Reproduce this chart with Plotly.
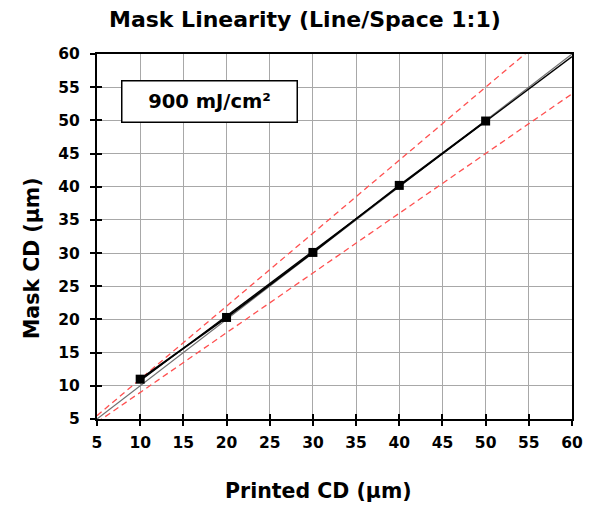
import numpy as np
import plotly.graph_objects as go

# Data
printed_cd = [10, 20, 30, 40, 50]
mask_cd = [11.0, 20.3, 30.1, 40.2, 49.9]
ref_x = [5, 60]
ideal_ratio = 1.0
tol_hi = 1.1
tol_lo = 0.9
trend_x = [10, 60]
ticks = [5, 10, 15, 20, 25, 30, 35, 40, 45, 50, 55, 60]
label_text = "900 mJ/cm²"
title_text = "Mask Linearity (Line/Space 1:1)"
x_title = "Printed CD (µm)"
y_title = "Mask CD (µm)"

slope, icpt = np.polyfit(printed_cd, mask_cd, 1)
trend_y = [slope * v + icpt for v in trend_x]

FONT = "DejaVu Sans"
fig = go.Figure()

fig.add_trace(go.Scatter(x=ref_x, y=[tol_hi * v for v in ref_x], mode="lines",
                         line=dict(color="#ff5050", width=1.3, dash="6px,4px"), showlegend=False))
fig.add_trace(go.Scatter(x=ref_x, y=[tol_lo * v for v in ref_x], mode="lines",
                         line=dict(color="#ff5050", width=1.3, dash="6px,4px"), showlegend=False))
fig.add_trace(go.Scatter(x=ref_x, y=[ideal_ratio * v for v in ref_x], mode="lines",
                         line=dict(color="#707070", width=1.2), showlegend=False))
fig.add_trace(go.Scatter(x=trend_x, y=trend_y, mode="lines",
                         line=dict(color="black", width=1.3), showlegend=False))
fig.add_trace(go.Scatter(x=printed_cd, y=mask_cd, mode="lines+markers",
                         line=dict(color="black", width=1.8),
                         marker=dict(symbol="square", size=9, color="black"),
                         showlegend=False))

axis_common = dict(
    range=[5, 60], tickvals=ticks, showgrid=True, gridcolor="#a8a8a8", gridwidth=1,
    showline=True, linecolor="black", linewidth=2, mirror=True,
    ticks="outside", ticklen=5, tickwidth=1.5, tickcolor="black",
    tickfont=dict(family=FONT, size=15.5, color="black", weight="bold"),
    zeroline=False,
)

fig.update_layout(
    width=600, height=506,
    margin=dict(l=89, r=36, t=46, b=95),
    paper_bgcolor="white", plot_bgcolor="white",
    xaxis=dict(**axis_common, ticklabelstandoff=3),
    yaxis=dict(**axis_common, ticklabelstandoff=7),
    xaxis2=dict(overlaying="x", matches="x", range=[5, 60], tickvals=ticks, ticks="inside",
                ticklen=5, tickwidth=1.5, tickcolor="black", showticklabels=False,
                showgrid=False, zeroline=False, side="bottom"),
    yaxis2=dict(overlaying="y", matches="y", range=[5, 60], tickvals=ticks, ticks="inside",
                ticklen=5, tickwidth=1.5, tickcolor="black", showticklabels=False,
                showgrid=False, zeroline=False, side="left"),
)

# dummy trace to activate overlay axes
fig.add_trace(go.Scatter(x=[None], y=[None], xaxis="x2", yaxis="y2", showlegend=False,
                         hoverinfo="skip"))

# title
fig.add_annotation(text="<b>" + title_text + "</b>", xref="paper", yref="paper",
                   x=(297 - 89) / 475, y=1 + (46 - 12) / 365, xanchor="center", yanchor="middle",
                   showarrow=False, font=dict(family=FONT, size=22, color="black"))
# axis titles
fig.add_annotation(text="<b>" + x_title + "</b>", xref="paper", yref="paper",
                   x=0.4653, y=-0.197, xanchor="center", yanchor="middle",
                   showarrow=False, font=dict(family=FONT, size=20.5, color="black"))
fig.add_annotation(text="<b>" + y_title + "</b>", xref="paper", yref="paper",
                   x=-0.1368, y=0.441, xanchor="center", yanchor="middle", textangle=-90,
                   showarrow=False, font=dict(family=FONT, size=20.5, color="black"))

fig.add_annotation(text="<b>" + label_text + "</b>", xref="paper", yref="paper",
                   x=0.237, y=0.871, xanchor="center", yanchor="middle", showarrow=False,
                   font=dict(family=FONT, size=19.5, color="black"),
                   bordercolor="black", borderwidth=1.5, borderpad=4, bgcolor="white",
                   width=166, height=32)

fig.write_html("out.html")
